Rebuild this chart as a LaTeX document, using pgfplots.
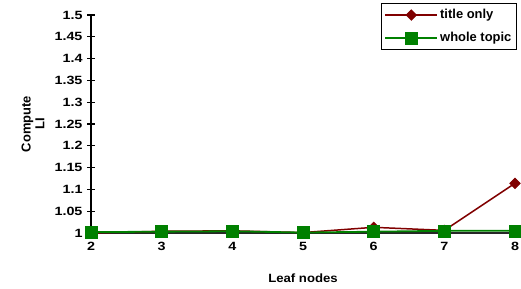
\documentclass[border=0pt]{standalone}
\usepackage{fontspec}
\setmainfont{Liberation Sans}
\newfontfamily\widefont[FakeStretch=1.2]{Liberation Sans}
\newfontfamily\midfont[FakeStretch=1.1]{Liberation Sans}
\usepackage{pgfplots}
\pgfplotsset{compat=1.18}
\usetikzlibrary{calc}
\definecolor{dred}{RGB}{128,0,0}
\definecolor{dgreen}{RGB}{0,128,0}
\begin{document}
\begin{tikzpicture}
\begin{axis}[
  name=ax,
  scale only axis,
  width=424bp, height=218bp,
  xmin=2, xmax=8, ymin=1, ymax=1.5,
  xtick={2,3,4,5,6,7,8},
  ytick={1,1.05,...,1.5},
  yticklabels={1,1.05,1.1,1.15,1.2,1.25,1.3,1.35,1.4,1.45,1.5},
  axis x line=bottom,
  axis y line=left,
  axis line style={black, line width=1.3pt, -},
  x axis line style={draw=black!85},
  xtick style={draw=none},
  ytick style={black, line width=1.2pt},
  major tick length=8bp,
  y tick style={/pgfplots/tick align=center},
  tick label style={font=\widefont\fontsize{12}{13}\selectfont\bfseries},
  /pgf/number format/assume math mode=true,
  yticklabel style={xshift=-1bp},
  xticklabel style={yshift=-2bp},
  clip=false,
  xlabel={Leaf nodes},
  ylabel={Compute\\LI},
  every axis x label/.style={at={(rel axis cs:0.5,0)}, anchor=center, yshift=-45bp, font=\midfont\fontsize{12}{13}\selectfont\bfseries},
  every axis y label/.style={at={(rel axis cs:0,0.5)}, anchor=center, xshift=-58bp, rotate=90, align=center, font=\fontsize{13}{14}\selectfont\bfseries},
  legend style={at={(rel axis cs:1,1)}, anchor=north east, xshift=2bp, yshift=12bp,
    draw=black, line width=1.2pt, font=\fontsize{13}{14}\selectfont\bfseries,
    inner xsep=3bp, inner ysep=4bp, row sep=8bp, cells={anchor=west}},
  legend image code/.code={
    \draw[#1, mark repeat=2, mark phase=2] plot coordinates {(0bp,0bp) (26bp,0bp) (52bp,0bp)};
  },
]
\addplot[color=dred, line width=1.5pt, mark=square*, mark size=3.8bp, mark options={rotate=45, fill=dred, line width=0.5pt}]
  coordinates {(2,1.000) (3,1.004) (4,1.005) (5,1.001) (6,1.013) (7,1.006) (8,1.114)};
\addlegendentry{title only}
\addplot[color=dgreen, line width=1.8pt, mark=square*, mark size=6bp, mark options={fill=dgreen, line width=0.5pt}]
  coordinates {(2,1.002) (3,1.003) (4,1.004) (5,1.001) (6,1.003) (7,1.005) (8,1.005)};
\addlegendentry{whole topic}
\end{axis}
\pgfresetboundingbox
\path[use as bounding box] ($(ax.south west)+(-91bp,-56bp)$) rectangle ($(ax.north east)+(6bp,15bp)$);
\end{tikzpicture}
\end{document}
